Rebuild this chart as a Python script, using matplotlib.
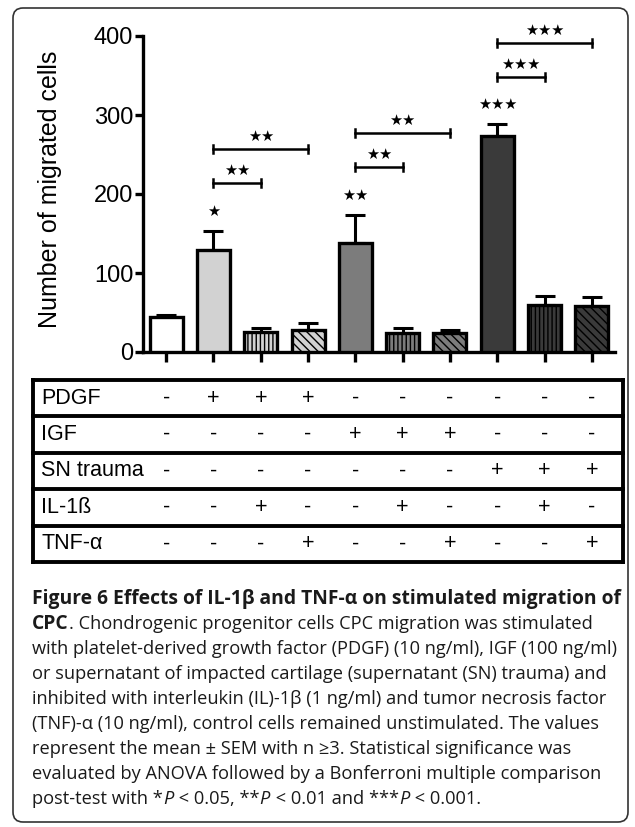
import numpy as np
import matplotlib
matplotlib.use("Agg")
import matplotlib.pyplot as plt
from matplotlib.patches import FancyBboxPatch
from matplotlib.transforms import blended_transform_factory

# data
means = [44, 129, 25, 28, 138, 24, 24, 273, 60, 58]
sems = [3, 24, 6, 9, 35, 7, 4, 15, 11, 11]
bar_stars = {1: '★', 4: '★★', 7: '★★★'}
brackets = [(1, 2, 214, '★★'), (1, 3, 257, '★★'),
            (4, 5, 234, '★★'), (4, 6, 277, '★★'),
            (7, 8, 348, '★★★'), (7, 9, 391, '★★★')]
row_names = ['PDGF', 'IGF', 'SN trauma', 'IL-1ß', 'TNF-α']
row_signs = ['-+++------', '----+++---', '-------+++', '--+--+--+-', '---+--+--+']

# styles
fills = ['white', '#d2d2d2', '#d2d2d2', '#d2d2d2', '#7c7c7c', '#7c7c7c', '#7c7c7c',
         '#3a3a3a', '#3a3a3a', '#3a3a3a']
hatches = ['', '', '||||', '\\\\\\\\', '', '||||', '\\\\\\\\', '', '||||', '\\\\\\\\']

plt.rcParams['font.family'] = ['Liberation Sans', 'DejaVu Sans']
plt.rcParams['hatch.linewidth'] = 1.0

W, H = 635, 827
fig = plt.figure(figsize=(W / 100, H / 100), dpi=100)

# overlay in pixel units for frame, table and caption
ov = fig.add_axes([0, 0, 1, 1])
ov.set_xlim(0, W)
ov.set_ylim(H, 0)
ov.axis('off')

ax = fig.add_axes([143 / W, 1 - 352 / H, (615 - 143) / W, (352 - 36) / H])
x = np.arange(len(means))
ax.bar(x, means, width=0.7, color=fills, edgecolor='black', linewidth=2.4,
       hatch=hatches, zorder=3)
ax.errorbar(x, means, yerr=[np.zeros(len(sems)), sems], fmt='none', ecolor='black',
            elinewidth=2.2, capsize=7, capthick=2.2, zorder=2)
ax.set_xlim(-0.49, 9.49)
ax.set_ylim(0, 400)
ax.set_yticks([0, 100, 200, 300, 400])
ax.set_xticks(x)
ax.set_xticklabels([])
for s in ['top', 'right']:
    ax.spines[s].set_visible(False)
for s in ['left', 'bottom']:
    ax.spines[s].set_linewidth(2.4)
ax.tick_params(axis='y', length=6, width=2.4, labelsize=17, pad=1)
ax.tick_params(axis='x', length=7, width=2.4)
ax.patch.set_visible(False)

star_font = dict(family='DejaVu Sans', fontsize=10.5, ha='center', va='center')
for i, s in bar_stars.items():
    ax.text(i, means[i] + sems[i] + 25, s, clip_on=False, **star_font)
for i, j, y, s in brackets:
    ax.plot([i, j], [y, y], color='black', lw=1.8, clip_on=False)
    ax.plot([i, i], [y - 5, y + 5], color='black', lw=1.8, clip_on=False)
    ax.plot([j, j], [y - 5, y + 5], color='black', lw=1.8, clip_on=False)
    ax.text((i + j) / 2, y + 16, s, clip_on=False, **star_font)

ov.text(50, 189, 'Number of migrated cells', rotation=90, ha='center', va='center',
        fontsize=18)

# condition table
tab_top, row_h = 380, 36.4
tab_l, tab_r = 33, 623
for k in range(len(row_names) + 1):
    yy = tab_top + k * row_h
    ov.plot([tab_l, tab_r], [yy, yy], color='black', lw=2.8, solid_capstyle='projecting')
ov.plot([tab_l, tab_l], [tab_top, tab_top + 5 * row_h], color='black', lw=2.8)
ov.plot([tab_r, tab_r], [tab_top, tab_top + 5 * row_h], color='black', lw=2.8)
tr = blended_transform_factory(ax.transData, ov.transData)
for k, (name, signs) in enumerate(zip(row_names, row_signs)):
    yy = tab_top + (k + 0.5) * row_h
    ov.text(41, yy, name, ha='left', va='center', fontsize=15.5)
    for i, c in enumerate(signs):
        ov.text(i, yy, '+' if c == '+' else '-', transform=tr, ha='center',
                va='center', fontsize=15.5)

# outer frame
ov.add_patch(FancyBboxPatch((13, 8), 615, 814, boxstyle='round,pad=0,rounding_size=10',
                            fill=False, edgecolor='#333333', lw=1.2))

# caption
cap_fam = ['Open Sans', 'DejaVu Sans']
caption = [
    [('Figure 6 Effects of IL-1β and TNF-α on stimulated migration of', 'bold', 'normal')],
    [('CPC', 'bold', 'normal'), ('. Chondrogenic progenitor cells CPC migration was stimulated', 'normal', 'normal')],
    [('with platelet-derived growth factor (PDGF) (10 ng/ml), IGF (100 ng/ml)', 'normal', 'normal')],
    [('or supernatant of impacted cartilage (supernatant (SN) trauma) and', 'normal', 'normal')],
    [('inhibited with interleukin (IL)-1β (1 ng/ml) and tumor necrosis factor', 'normal', 'normal')],
    [('(TNF)-α (10 ng/ml), control cells remained unstimulated. The values', 'normal', 'normal')],
    [('represent the mean ± SEM with n ≥3. Statistical significance was', 'normal', 'normal')],
    [('evaluated by ANOVA followed by a Bonferroni multiple comparison', 'normal', 'normal')],
    [('post-test with *', 'normal', 'normal'), ('P', 'normal', 'italic'),
     (' < 0.05, **', 'normal', 'normal'), ('P', 'normal', 'italic'),
     (' < 0.01 and ***', 'normal', 'normal'), ('P', 'normal', 'italic'),
     (' < 0.001.', 'normal', 'normal')],
]
renderer = fig.canvas.get_renderer()

# size the caption fonts so the long lines span the same width as in the figure
probe = ov.text(0, 0, caption[2][0][0], fontsize=10, family=cap_fam)
reg_fs = 10 * 588 / probe.get_window_extent(renderer=renderer).width
probe.remove()
probe = ov.text(0, 0, caption[0][0][0], fontsize=10, family=cap_fam, weight='bold')
bold_fs = min(10 * 590 / probe.get_window_extent(renderer=renderer).width, reg_fs * 1.06)
probe.remove()

for n, parts in enumerate(caption):
    yy = 599 + n * 25
    xx = 32
    for s, wt, st in parts:
        fs = bold_fs if wt == 'bold' else reg_fs
        t = ov.text(xx, yy, s, ha='left', va='center', fontsize=fs,
                    family=cap_fam, weight=wt, style=st, color='#1a1a1a')
        w = t.get_window_extent(renderer=renderer).width
        xx += w + (1.0 if st == 'italic' else 0)

fig.savefig('out.png', dpi=100)
